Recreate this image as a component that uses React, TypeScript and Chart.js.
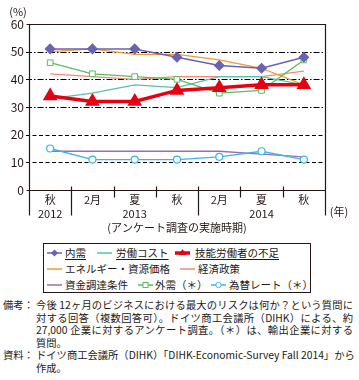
import React, { useEffect, useRef } from "react";
import { Chart, registerables } from "chart.js";
Chart.register(...registerables);

const categories = ["秋", "2月", "夏", "秋", "2月", "夏", "秋"];
const years = ["2012", "2013", "2014"];
const yearGroups = [[0, 0], [1, 3], [4, 6]];
const yTicks = [0, 10, 20, 30, 40, 50, 60];

const naiju = [51, 51, 51, 48, 45, 44, 48];
const roudouCost = [33, 35, 38, 37, 41, 41, 38];
const ginou = [34, 32, 32, 36, 37, 38, 38];
const energy = [50, 51, 49, 49, 47, 44, 38];
const keizai = [42, 41, 40, 41, 41, 41, 43];
const shikin = [14, 14, 14, 14, 14, 13, 12];
const gaiju = [46, 42, 41, 40, 35, 36, 47];
const kawase = [15, 11, 11, 11, 12, 14, 11];

const C = {
  naiju: "#6A62B2",
  roudou: "#5CC0A2",
  ginou: "#E60012",
  energy: "#F09A32",
  keizai: "#F08A80",
  shikin: "#9B6FAE",
  gaiju: "#5DBB63",
  kawase: "#3DB5E8",
};

const FONT = '"Noto Sans CJK JP", "Noto Sans", sans-serif';

const customPlugin = {
  id: "custom",
  beforeDatasetsDraw(chart: any) {
    const ctx = chart.ctx;
    const { left, right, top } = chart.chartArea;
    const y = chart.scales.y;
    ctx.save();
    ctx.strokeStyle = "#000";
    ctx.lineWidth = 1;
    for (const v of [10, 20, 30, 40, 50]) {
      const py = Math.round(y.getPixelForValue(v)) + 0.5;
      ctx.setLineDash(v >= 30 ? [6, 2, 1.5, 2] : [4, 2.5]);
      ctx.beginPath();
      ctx.moveTo(left - 3, py);
      ctx.lineTo(right, py);
      ctx.stroke();
    }
    ctx.restore();
  },
  afterDraw(chart: any) {
    const ctx = chart.ctx;
    const { left, right, top } = chart.chartArea;
    const x = chart.scales.x;
    const y = chart.scales.y;
    const zero = Math.round(y.getPixelForValue(0)) + 0.5;
    const L = Math.round(left) + 0.5;
    const R = Math.round(right) + 0.5;
    const T = Math.round(top) + 0.5;
    ctx.save();
    ctx.setLineDash([]);
    ctx.strokeStyle = "#231815";
    ctx.lineWidth = 1.2;
    ctx.beginPath();
    ctx.moveTo(L, zero + 25);
    ctx.lineTo(L, T);
    ctx.lineTo(R, T);
    ctx.lineTo(R, zero + 25);
    ctx.moveTo(L - 3, zero);
    ctx.lineTo(R, zero);
    ctx.moveTo(L - 3, T);
    ctx.lineTo(L, T);
    ctx.stroke();
    // separators
    for (let i = 0; i < categories.length - 1; i++) {
      const sx = Math.round((x.getPixelForValue(i) + x.getPixelForValue(i + 1)) / 2) + 0.5;
      const long = yearGroups.some((g) => g[1] === i);
      ctx.beginPath();
      ctx.moveTo(sx, zero - 4);
      ctx.lineTo(sx, long ? zero + 25 : zero + 7);
      ctx.stroke();
    }
    // y labels
    ctx.fillStyle = "#231815";
    ctx.font = `12px ${FONT}`;
    ctx.textAlign = "right";
    ctx.textBaseline = "middle";
    for (const v of yTicks) {
      ctx.fillText(String(v), left - 5, y.getPixelForValue(v));
    }
    ctx.textAlign = "center";
    ctx.font = `11px ${FONT}`;
    ctx.fillText("(%)", 18, 12);
    // category labels
    ctx.font = `11px ${FONT}`;
    categories.forEach((c, i) => {
      ctx.fillText(c, x.getPixelForValue(i), zero + 9);
    });
    years.forEach((yr, i) => {
      const g = yearGroups[i];
      const cx = (x.getPixelForValue(g[0]) + x.getPixelForValue(g[1])) / 2;
      ctx.fillText(yr, cx, zero + 23);
    });
    ctx.fillText("(年)", 339, zero + 21);
    ctx.fillText("(アンケート調査の実施時期)", 177, zero + 37);
    ctx.restore();
  },
};

function Sym({ color, marker, width = 1.5 }: { color: string; marker?: string; width?: number }) {
  let m: any = null;
  if (marker === "diamond") m = <polygon points="7.5,1.5 11,5 7.5,8.5 4,5" fill={color} />;
  if (marker === "triangle") m = <polygon points="7.5,1 11.5,7 3.5,7" fill={color} />;
  if (marker === "square") m = <rect x="5" y="2.5" width="5" height="5" fill="#fff" stroke={color} strokeWidth="1" />;
  if (marker === "circle") m = <circle cx="7.5" cy="5" r="2.7" fill="#fff" stroke={color} strokeWidth="1" />;
  return (
    <svg width="15" height="10" style={{ display: "block" }}>
      <line x1="0" y1="5" x2="15" y2="5" stroke={color} strokeWidth={width} />
      {m}
    </svg>
  );
}

const legendItems = [
  { row: 0, sx: 47, tx: 65, label: "内需", color: C.naiju, marker: "diamond", u: true },
  { row: 0, sx: 97, tx: 116, label: "労働コスト", color: C.roudou, u: true },
  { row: 0, sx: 175, tx: 195, label: "技能労働者の不足", color: C.ginou, marker: "triangle", w: 3.5, u: true },
  { row: 1, sx: 47, tx: 65, label: "エネルギー・資源価格", color: C.energy },
  { row: 1, sx: 180, tx: 198, label: "経済政策", color: C.keizai },
  { row: 2, sx: 47, tx: 65, label: "資金調達条件", color: C.shikin },
  { row: 2, sx: 138, tx: 155, label: "外需（＊）", color: C.gaiju, marker: "square" },
  { row: 2, sx: 211, tx: 229, label: "為替レート（＊）", color: C.kawase, marker: "circle" },
];

const noteLines = [
  { head: "備考：", text: "今後 12ヶ月のビジネスにおける最大のリスクは何か？という質問に", j: true },
  { head: "", text: "対する回答（複数回答可）。ドイツ商工会議所（DIHK）による、約", j: true },
  { head: "", text: "27,000 企業に対するアンケート調査。（＊）は、輸出企業に対する", j: true },
  { head: "", text: "質問。", j: false },
  { head: "資料：", text: "ドイツ商工会議所（DIHK）「DIHK-Economic-Survey Fall 2014」から", j: true },
  { head: "", text: "作成。", j: false },
];

export default function App() {
  const ref = useRef<HTMLCanvasElement>(null);
  useEffect(() => {
    if (!ref.current) return;
    const ds = (label: string, data: number[], color: string, extra: any = {}) => ({
      label,
      data,
      borderColor: color,
      backgroundColor: color,
      borderWidth: 1.3,
      pointRadius: 0,
      tension: 0,
      ...extra,
    });
    const chart = new Chart(ref.current, {
      type: "line",
      data: {
        labels: categories,
        datasets: [
          ds("技能労働者の不足", ginou, C.ginou, { borderWidth: 3.5, pointStyle: "triangle", pointRadius: 5, order: 0 }),
          ds("内需", naiju, C.naiju, { borderWidth: 1.5, pointStyle: "rectRot", pointRadius: 4.5, order: 1 }),
          ds("外需（＊）", gaiju, C.gaiju, { pointStyle: "rect", pointRadius: 4, pointBackgroundColor: "#fff", pointBorderWidth: 1, order: 2 }),
          ds("為替レート（＊）", kawase, C.kawase, { pointStyle: "circle", pointRadius: 3.5, pointBackgroundColor: "#fff", pointBorderWidth: 1.2, order: 3 }),
          ds("エネルギー・資源価格", energy, C.energy, { order: 4 }),
          ds("労働コスト", roudouCost, C.roudou, { order: 5 }),
          ds("経済政策", keizai, C.keizai, { order: 6 }),
          ds("資金調達条件", shikin, C.shikin, { order: 7 }),
        ],
      },
      options: {
        animation: false,
        responsive: false,
        devicePixelRatio: 1,
        layout: { padding: { left: 29, right: 34, top: 24, bottom: 50 } },
        plugins: { legend: { display: false }, tooltip: { enabled: false } },
        scales: {
          x: { type: "category", offset: true, display: false },
          y: { min: 0, max: 60, display: false },
        },
      } as any,
      plugins: [customPlugin],
    });
    return () => chart.destroy();
  }, []);

  return (
    <div style={{ position: "fixed", left: 0, top: 0, width: 359, height: 380, background: "#fff", fontFamily: FONT, color: "#231815" }}>
      <canvas ref={ref} width={359} height={240} style={{ position: "absolute", left: 0, top: 0, width: 359, height: 240 }} />
      <div style={{ position: "absolute", left: 43, top: 243, width: 266, height: 48, border: "1.3px solid #231815" }} />
      {legendItems.map((it, i) => (
        <React.Fragment key={i}>
          <div style={{ position: "absolute", left: it.sx, top: 248 + it.row * 16 }}>
            <Sym color={it.color} marker={it.marker} width={it.w || 1.5} />
          </div>
          <div
            style={{
              position: "absolute",
              left: it.tx,
              top: 245 + it.row * 16,
              fontSize: 10.5,
              lineHeight: "16px",
              whiteSpace: "nowrap",
              textDecoration: it.u ? "underline" : "none",
              textUnderlineOffset: 2,
            }}
          >
            {it.label}
          </div>
        </React.Fragment>
      ))}
      {noteLines.map((ln, i) => (
        <React.Fragment key={"n" + i}>
          {ln.head && (
            <div style={{ position: "absolute", left: 3, top: 298 + i * 12.5, fontSize: 10.3, lineHeight: "14px", whiteSpace: "nowrap" }}>
              {ln.head}
            </div>
          )}
          <div
            style={{
              position: "absolute",
              left: 36,
              top: 298 + i * 12.5,
              width: 317,
              fontSize: 10.3,
              lineHeight: "14px",
              whiteSpace: "nowrap",
              textAlign: ln.j ? "justify" : "left",
              textAlignLast: ln.j ? "justify" : "left",
            } as any}
          >
            {ln.text}
          </div>
        </React.Fragment>
      ))}
    </div>
  );
}
